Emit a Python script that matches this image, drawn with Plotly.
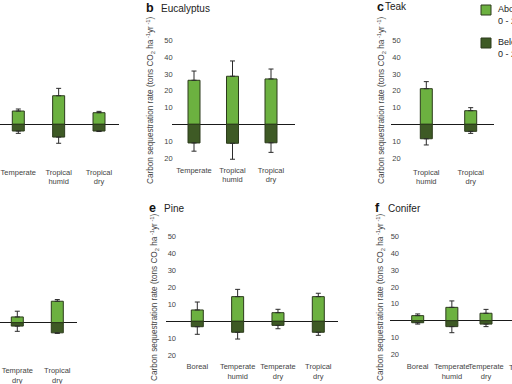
import plotly.graph_objects as go

# ---------------- data ----------------
a_cats = ["Temperate", "Tropical<br>humid", "Tropical<br>dry"]
a_above = [7.9, 17.0, 6.9]
a_above_sd = [1.2, 4.4, 0.8]
a_below = [4.0, 7.6, 4.0]
a_below_sd = [1.4, 3.7, 0.3]

b_cats = ["Temperate", "Tropical<br>humid", "Tropical<br>dry"]
b_above = [26.2, 28.6, 27.0]
b_above_sd = [5.5, 9.1, 5.9]
b_below = [11.1, 11.3, 11.0]
b_below_sd = [4.9, 9.5, 5.7]

c_cats = ["Tropical<br>humid", "Tropical<br>dry"]
c_above = [21.2, 8.1]
c_above_sd = [4.2, 1.8]
c_below = [8.6, 4.2]
c_below_sd = [3.7, 1.2]

d_cats = ["Temprate<br>dry", "Tropical<br>dry"]
d_above = [3.4, 12.7]
d_above_sd = [3.4, 1.0]
d_below = [2.0, 6.0]
d_below_sd = [3.1, 0.3]

e_cats = ["Boreal", "Temperate<br>humid", "Temperate<br>dry", "Tropical<br>dry"]
e_above = [6.7, 14.6, 5.1, 14.6]
e_above_sd = [4.7, 4.3, 2.0, 2.0]
e_below = [3.2, 6.5, 2.4, 6.5]
e_below_sd = [4.5, 4.0, 2.0, 1.8]

f_cats = ["Boreal", "Temperate<br>humid", "Temperate<br>dry"]
f_above = [3.0, 7.9, 4.4]
f_above_sd = [1.0, 3.8, 2.3]
f_below = [1.2, 3.5, 2.0]
f_below_sd = [0.8, 3.6, 1.5]

y_tickvals = [-20, -10, 10, 20, 30, 40, 50]
y_ticktext = ["20", "10", "10", "20", "30", "40", "50"]

legend_names = ["Aboveground<br>0 - 20 yr", "Belowground<br>0 - 20 yr"]

# ---------------- layout geometry (pixels) ----------------
W, H = 512, 384
ABOVE_C = "#6cb140"
BELOW_C = "#3e5a25"
EDGE_C = "#2c3b1c"
ERR_C = "#2a2a2a"
FONT = "Liberation Sans"
TICK_C = "#444"

panels = [
    # name, cats, above, above_sd, below, below_sd, x0, x1, first_cat_px, last_cat_px,
    # zero_px, scale, label_y, show_y, y-label standoff
    ("a", a_cats, a_above, a_above_sd, a_below, a_below_sd, 0, 119, 18.3, 99.0, 124.3, 1.68, 171.5, False, 0),
    ("b", b_cats, b_above, b_above_sd, b_below, b_below_sd, 171.7, 295, 194.0, 271.0, 124.3, 1.68, 169.5, True, -2),
    ("c", c_cats, c_above, c_above_sd, c_below, c_below_sd, 390.7, 494, 426.3, 470.7, 124.3, 1.68, 171.5, True, -11),
    ("d", d_cats, d_above, d_above_sd, d_below, d_below_sd, 0, 77, 17.3, 57.3, 322.7, 1.69, 370.0, False, 0),
    ("e", e_cats, e_above, e_above_sd, e_below, e_below_sd, 166, 338, 197.3, 318.3, 321.3, 1.69, 366.0, True, -11),
    ("f", f_cats, f_above, f_above_sd, f_below, f_below_sd, 390, 512, 417.7, 486.0, 320.7, 1.69, 366.0, True, -10),
]

fig = go.Figure()
layout = {}

for i, (name, cats, ab, ab_sd, be, be_sd, x0, x1, p0, pl, zero, sc, laby, showy, ystand) in enumerate(panels):
    k = "" if i == 0 else str(i + 1)
    spacing = (pl - p0) / (len(cats) - 1)
    xr = [(x0 - p0) / spacing, (x1 - p0) / spacing]
    top_val = 58
    bottom_px = laby - 5.5
    bot_val = -(bottom_px - zero) / sc
    top_px = zero - top_val * sc
    bw = 12.0 / spacing

    fig.add_trace(go.Bar(
        x=cats, y=ab, width=bw, xaxis="x" + k, yaxis="y" + k,
        marker=dict(color=ABOVE_C, line=dict(color=EDGE_C, width=1)),
        error_y=dict(type="data", symmetric=False, array=ab_sd,
                     arrayminus=[0] * len(ab), color=ERR_C, thickness=1, width=2.5),
        name=legend_names[0], showlegend=False,
    ))
    fig.add_trace(go.Bar(
        x=cats, y=[-v for v in be], width=bw, xaxis="x" + k, yaxis="y" + k,
        marker=dict(color=BELOW_C, line=dict(color=EDGE_C, width=1)),
        error_y=dict(type="data", symmetric=False, array=[0] * len(be),
                     arrayminus=be_sd, color=ERR_C, thickness=1, width=2.5),
        name=legend_names[1], showlegend=False,
    ))

    layout["xaxis" + k] = dict(
        domain=[x0 / W, x1 / W], range=xr, anchor="y" + k, automargin=False,
        type="category", categoryorder="array", categoryarray=cats,
        showgrid=False, zeroline=False, showline=False, ticks="", tickangle=0,
        tickfont=dict(family=FONT, size=7.5, color=TICK_C),
    )
    layout["yaxis" + k] = dict(
        domain=[1 - bottom_px / H, 1 - top_px / H], range=[bot_val, top_val],
        anchor="x" + k, automargin=False, showgrid=False, showline=False, ticks="",
        zeroline=True, zerolinecolor="#1a1a1a", zerolinewidth=1,
        tickvals=y_tickvals, ticktext=y_ticktext, showticklabels=showy,
        ticklabelstandoff=ystand,
        tickfont=dict(family=FONT, size=7.5, color=TICK_C),
    )

annotations = []
ytitle = "Carbon sequestration rate (tons CO<sub>2</sub> ha<sup> -1</sup>yr<sup> -1</sup>)"
for xpx, ypx in [(150, 100), (381, 100), (154, 297), (380, 297)]:
    annotations.append(dict(text=ytitle, x=xpx / W, y=1 - ypx / H, xref="paper", yref="paper",
                            textangle=-90, showarrow=False, xanchor="center", yanchor="middle",
                            font=dict(family=FONT, size=8.2, color="#444")))

titles = [("b", "Eucalyptus", 144, 159, 8), ("c", "Teak", 375, 383, 7),
          ("e", "Pine", 147, 162, 208), ("f", "Conifer", 373, 386, 208)]
for letter, txt, lx, tx, ty in titles:
    annotations.append(dict(text="<b>" + letter + "</b>", x=lx / W, y=1 - ty / H, xref="paper", yref="paper",
                            showarrow=False, xanchor="left", yanchor="middle",
                            font=dict(family=FONT, size=12.5, color="#111")))
    annotations.append(dict(text=txt, x=tx / W, y=1 - ty / H, xref="paper", yref="paper",
                            showarrow=False, xanchor="left", yanchor="middle",
                            font=dict(family=FONT, size=10, color="#222")))

# cut-off fourth category label of the conifer panel
annotations.append(dict(text="Tropical<br>dry", x=507 / W, y=1 - 361 / H, xref="paper", yref="paper",
                        showarrow=False, xanchor="left", yanchor="top",
                        font=dict(family=FONT, size=7.5, color=TICK_C)))

# legend built from shapes + text
shapes = []
for (ytop, col, nm) in [(5, ABOVE_C, legend_names[0]), (38, BELOW_C, legend_names[1])]:
    shapes.append(dict(type="rect", xref="paper", yref="paper",
                       x0=481 / W, x1=491 / W, y0=1 - (ytop + 10) / H, y1=1 - ytop / H,
                       fillcolor=col, line=dict(color=EDGE_C, width=1)))
    annotations.append(dict(text=nm, x=496 / W, y=1 - (ytop - 3) / H, xref="paper", yref="paper",
                            showarrow=False, xanchor="left", yanchor="top", align="left",
                            font=dict(family=FONT, size=9, color="#222")))

fig.update_layout(
    width=W, height=H, margin=dict(l=0, r=0, t=0, b=0, autoexpand=False),
    paper_bgcolor="white", plot_bgcolor="white",
    barmode="overlay", showlegend=False,
    annotations=annotations, shapes=shapes,
    **layout,
)

fig.write_html("out.html")
